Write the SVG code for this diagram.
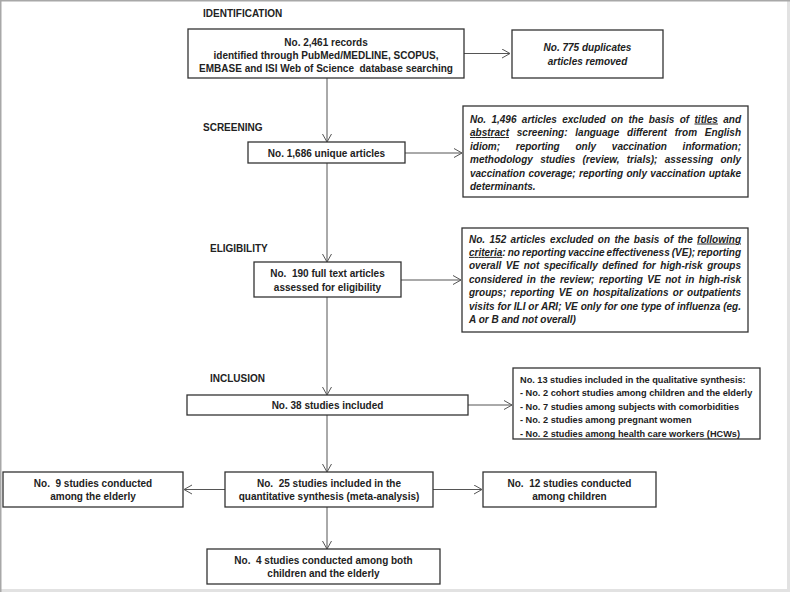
<svg xmlns="http://www.w3.org/2000/svg" width="790" height="592" viewBox="0 0 790 592">
<defs>
<style>
.t{font-family:"Liberation Sans",Arial,sans-serif;font-size:10px;font-weight:bold;fill:#222}
.c{text-anchor:middle}
.i{font-style:italic}
.q{font-size:9.2px}
.u{text-decoration:underline}
.box{fill:#fff;stroke:#333;stroke-width:1.3}
.ln{stroke:#555;stroke-width:1;fill:none}
</style>
<marker id="ah" markerUnits="userSpaceOnUse" markerWidth="12" markerHeight="12" refX="9" refY="5" orient="auto">
<path d="M1,0.5 L9,5 L1,9.5" fill="none" stroke="#555" stroke-width="1"/>
</marker>
</defs>
<rect x="0" y="0" width="790" height="592" fill="#fff"/>
<rect x="787" y="0" width="3" height="592" fill="#e2e2e2"/>
<rect x="0" y="589" width="790" height="3" fill="#e2e2e2"/>
<line x1="0" y1="0.75" x2="790" y2="0.75" stroke="#a8a8a8" stroke-width="1.5"/>
<line x1="0.75" y1="0" x2="0.75" y2="592" stroke="#a8a8a8" stroke-width="1.5"/>

<g id="labels">
<text class="t" x="203" y="17">IDENTIFICATION</text>
<text class="t" x="203" y="131">SCREENING</text>
<text class="t" x="210" y="252">ELIGIBILITY</text>
<text class="t" x="210" y="382">INCLUSION</text>
</g>

<g id="connectors">
<line class="ln" x1="464" y1="53.5" x2="510" y2="53.5" marker-end="url(#ah)"/>
<line class="ln" x1="327" y1="78" x2="327" y2="142" marker-end="url(#ah)"/>
<line class="ln" x1="405" y1="153" x2="462" y2="153" marker-end="url(#ah)"/>
<line class="ln" x1="327" y1="163" x2="327" y2="262" marker-end="url(#ah)"/>
<line class="ln" x1="401" y1="280" x2="461" y2="280" marker-end="url(#ah)"/>
<line class="ln" x1="327" y1="297" x2="327" y2="395" marker-end="url(#ah)"/>
<line class="ln" x1="468" y1="405" x2="512" y2="405" marker-end="url(#ah)"/>
<line class="ln" x1="327" y1="415" x2="327" y2="472" marker-end="url(#ah)"/>
<line class="ln" x1="225" y1="489.5" x2="184" y2="489.5" marker-end="url(#ah)"/>
<line class="ln" x1="433" y1="489.5" x2="482" y2="489.5" marker-end="url(#ah)"/>
<line class="ln" x1="327" y1="507" x2="327" y2="549" marker-end="url(#ah)"/>
</g>

<g id="records">
<rect class="box" x="188" y="29" width="276" height="49"/>
<text class="t c" x="326" y="45.5">No. 2,461 records</text>
<text class="t c" x="326" y="58.5">identified through PubMed/MEDLINE, SCOPUS,</text>
<text class="t c" x="326" y="71.5" xml:space="preserve">EMBASE and ISI Web of Science  database searching</text>
</g>

<g id="duplicates">
<rect class="box" x="512" y="30" width="151" height="48"/>
<text class="t c i" x="587.5" y="51">No. 775 duplicates</text>
<text class="t c i" x="587.5" y="65">articles removed</text>
</g>

<g id="unique">
<rect class="box" x="248" y="142" width="157" height="21"/>
<text class="t c" x="326.5" y="156.5">No. 1,686 unique articles</text>
</g>

<g id="excluded1">
<rect class="box" x="463" y="106" width="285" height="91"/>
<text class="t i" x="470" y="122.5" word-spacing="2.5" textLength="271" lengthAdjust="spacing">No. 1,496 articles excluded on the basis of <tspan class="u">titles</tspan> and</text>
<text class="t i" x="470" y="136" word-spacing="5" textLength="271" lengthAdjust="spacing"><tspan class="u">abstract</tspan> screening: language different from English</text>
<text class="t i" x="470" y="149.5" word-spacing="13" textLength="271" lengthAdjust="spacing">idiom; reporting only vaccination information;</text>
<text class="t i" x="470" y="163" word-spacing="4.5" textLength="271" lengthAdjust="spacing">methodology studies (review, trials); assessing only</text>
<text class="t i" x="470" y="176.5" word-spacing="0.6" textLength="271" lengthAdjust="spacing">vaccination coverage; reporting only vaccination uptake</text>
<text class="t i" x="470" y="190">determinants.</text>
</g>

<g id="fulltext">
<rect class="box" x="254" y="262" width="147" height="35"/>
<text class="t c" x="327.5" y="276.5" xml:space="preserve">No.  190 full text articles</text>
<text class="t c" x="327.5" y="290.5">assessed for eligibility</text>
</g>

<g id="excluded2">
<rect class="box" x="462" y="228" width="286" height="104"/>
<text class="t i" x="469" y="242.5" word-spacing="1.6" textLength="272" lengthAdjust="spacing">No. 152 articles excluded on the basis of the <tspan class="u">following</tspan></text>
<text class="t i" x="469" y="255.9" word-spacing="-0.7" textLength="272" lengthAdjust="spacing"><tspan class="u">criteria</tspan>: no reporting vaccine effectiveness (VE); reporting</text>
<text class="t i" x="469" y="269.3" word-spacing="1.8" textLength="272" lengthAdjust="spacing">overall VE not specifically defined for high-risk groups</text>
<text class="t i" x="469" y="282.7" word-spacing="1.8" textLength="272" lengthAdjust="spacing">considered in the review; reporting VE not in high-risk</text>
<text class="t i" x="469" y="296.1" word-spacing="1.5" textLength="272" lengthAdjust="spacing">groups; reporting VE on hospitalizations or outpatients</text>
<text class="t i" x="469" y="309.5" word-spacing="0.1" textLength="272" lengthAdjust="spacing">visits for ILI or ARI; VE only for one type of influenza (eg.</text>
<text class="t i" x="469" y="322.9">A or B and not overall)</text>
</g>

<g id="included">
<rect class="box" x="187" y="395" width="281" height="20"/>
<text class="t c" x="327.5" y="409">No. 38 studies included</text>
</g>

<g id="qualitative">
<rect class="box" x="513" y="368" width="247" height="71"/>
<text class="t q" x="520" y="382.5">No. 13 studies included in the qualitative synthesis:</text>
<text class="t q" x="520" y="396">- No. 2 cohort studies among children and the elderly</text>
<text class="t q" x="520" y="409.5">- No. 7 studies among subjects with comorbidities</text>
<text class="t q" x="520" y="423">- No. 2 studies among pregnant women</text>
<text class="t q" x="520" y="436.5">- No. 2 studies among health care workers (HCWs)</text>
</g>

<g id="quantitative">
<rect class="box" x="225" y="472" width="208" height="35"/>
<text class="t c" x="329" y="486.5" xml:space="preserve">No.  25 studies included in the</text>
<text class="t c" x="329" y="499.5">quantitative synthesis (meta-analysis)</text>
</g>

<g id="elderly">
<rect class="box" x="3" y="472" width="180" height="35"/>
<text class="t c" x="93" y="486.5" xml:space="preserve">No.  9 studies conducted</text>
<text class="t c" x="93" y="499.5">among the elderly</text>
</g>

<g id="children">
<rect class="box" x="483" y="472" width="173" height="35"/>
<text class="t c" x="569.5" y="486.5" xml:space="preserve">No.  12 studies conducted</text>
<text class="t c" x="569.5" y="499.5">among children</text>
</g>

<g id="both">
<rect class="box" x="207" y="549" width="233" height="35"/>
<text class="t c" x="323.5" y="563.5" xml:space="preserve">No.  4 studies conducted among both</text>
<text class="t c" x="323.5" y="576.5">children and the elderly</text>
</g>
</svg>
